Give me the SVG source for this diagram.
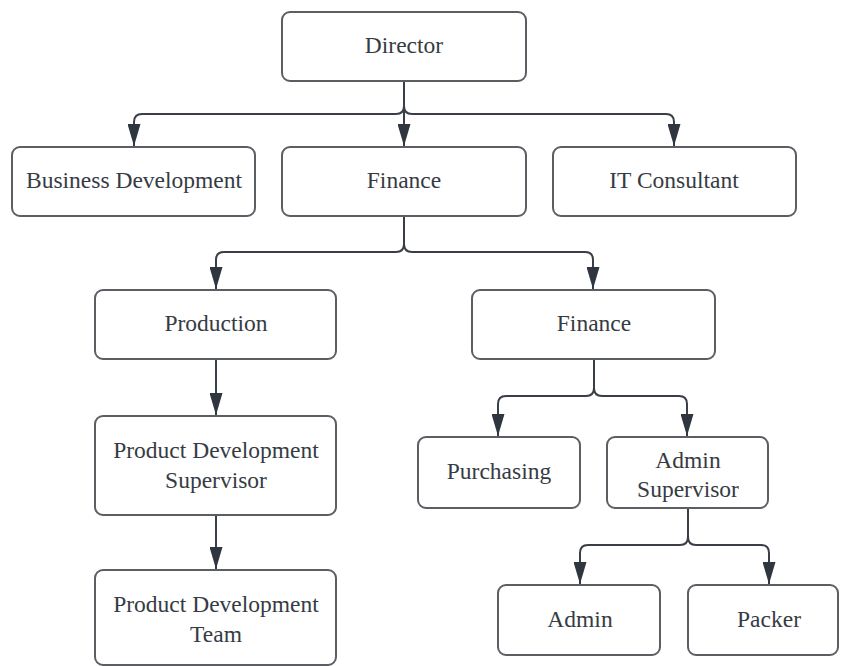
<svg xmlns="http://www.w3.org/2000/svg" width="841" height="666" viewBox="0 0 841 666">
<defs>
<marker id="arr" markerUnits="userSpaceOnUse" markerWidth="22" markerHeight="13" viewBox="0 0 22 13" refX="22" refY="6.5" orient="auto">
<path d="M0,0 L22,6.5 L0,13 z" fill="#2f3640"/>
</marker>
</defs>
<style>
.box{fill:#ffffff;stroke:#5b5e63;stroke-width:2}
.lbl{font-family:"Liberation Serif","Times New Roman",serif;font-size:23.5px;fill:#363b43;text-anchor:middle;dominant-baseline:central}
.con{fill:none;stroke:#3a3f47;stroke-width:2;marker-end:url(#arr)}
</style>
<rect width="841" height="666" fill="#ffffff"/>
<g id="connectors">
<path class="con" d="M404,80 V106 Q404,114 396,114 H142 Q134,114 134,122 V146"/>
<path class="con" d="M404,80 V146"/>
<path class="con" d="M404,80 V106 Q404,114 412,114 H666 Q674,114 674,122 V146"/>
<path class="con" d="M404,215 V244 Q404,252 396,252 H224 Q216,252 216,260 V289"/>
<path class="con" d="M404,215 V244 Q404,252 412,252 H585 Q593,252 593,260 V289"/>
<path class="con" d="M216,358 V415"/>
<path class="con" d="M594,358 V388 Q594,396 586,396 H506 Q498,396 498,404 V436"/>
<path class="con" d="M594,358 V388 Q594,396 602,396 H679 Q687,396 687,404 V436"/>
<path class="con" d="M216,515 V569"/>
<path class="con" d="M688,508 V537 Q688,545 680,545 H588 Q580,545 580,553 V584"/>
<path class="con" d="M688,508 V537 Q688,545 696,545 H761 Q769,545 769,553 V584"/>
</g>
<g id="director"><rect class="box" x="282" y="12" width="244" height="69" rx="8"/><text class="lbl" x="404" y="45">Director</text></g>
<g id="business-development"><rect class="box" x="12" y="147" width="243" height="69" rx="8"/><text class="lbl" x="134" y="180">Business Development</text></g>
<g id="finance"><rect class="box" x="282" y="147" width="244" height="69" rx="8"/><text class="lbl" x="404" y="180">Finance</text></g>
<g id="it-consultant"><rect class="box" x="553" y="147" width="243" height="69" rx="8"/><text class="lbl" x="674" y="180">IT Consultant</text></g>
<g id="production"><rect class="box" x="95" y="290" width="241" height="69" rx="8"/><text class="lbl" x="216" y="323">Production</text></g>
<g id="finance-2"><rect class="box" x="472" y="290" width="243" height="69" rx="8"/><text class="lbl" x="594" y="323">Finance</text></g>
<g id="product-development-supervisor"><rect class="box" x="95" y="416" width="241" height="99" rx="8"/><text class="lbl" x="216" y="450">Product Development</text><text class="lbl" x="216" y="480">Supervisor</text></g>
<g id="product-development-team"><rect class="box" x="95" y="570" width="241" height="95" rx="8"/><text class="lbl" x="216" y="604">Product Development</text><text class="lbl" x="216" y="634">Team</text></g>
<g id="purchasing"><rect class="box" x="418" y="437" width="162" height="71" rx="8"/><text class="lbl" x="499" y="471">Purchasing</text></g>
<g id="admin-supervisor"><rect class="box" x="607" y="437" width="161" height="71" rx="8"/><text class="lbl" x="688" y="460">Admin</text><text class="lbl" x="688" y="489">Supervisor</text></g>
<g id="admin"><rect class="box" x="498" y="585" width="162" height="70" rx="8"/><text class="lbl" x="580" y="619">Admin</text></g>
<g id="packer"><rect class="box" x="688" y="585" width="150" height="70" rx="8"/><text class="lbl" x="769" y="619">Packer</text></g>
</svg>
